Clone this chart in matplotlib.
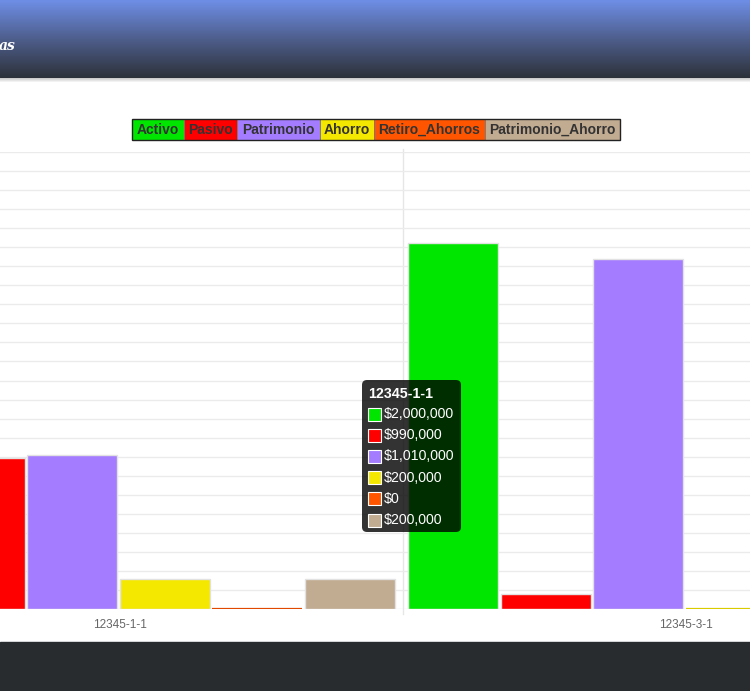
import numpy as np
import matplotlib
matplotlib.use("Agg")
import matplotlib.pyplot as plt
from matplotlib.patches import Rectangle, FancyBboxPatch

# data
groups = ["12345-1-1", "12345-3-1"]
series = ["Activo", "Pasivo", "Patrimonio", "Ahorro", "Retiro_Ahorros", "Patrimonio_Ahorro"]
colors = ["#00e600", "#ff0000", "#a47cff", "#f5e800", "#ff5500", "#c1ab91"]
activo = [2000000, 2400000]
pasivo = [990000, 100000]
patrimonio = [1010000, 2300000]
ahorro = [200000, 0]
retiro_ahorros = [0, 0]
patrimonio_ahorro = [200000, 0]
values = [activo, pasivo, patrimonio, ahorro, retiro_ahorros, patrimonio_ahorro]
tooltip_group = 0

W, H = 750, 691
plt.rcParams['font.family'] = ['Liberation Sans', 'DejaVu Sans']
fig = plt.figure(figsize=(W / 100, H / 100), dpi=100)

def frac(x0, y0, x1, y1):
    # pixel box (top-left origin) -> figure fraction rect
    return [x0 / W, 1 - y1 / H, (x1 - x0) / W, (y1 - y0) / H]

# page background: header, shadow, footer
bg = fig.add_axes([0, 0, 1, 1], zorder=0)
bg.axis("off")
top = np.array([110, 142, 230]) / 255
mid = np.array([78, 94, 140]) / 255
bot = np.array([45, 50, 58]) / 255
t = np.linspace(0, 1, 78)[:, None]
grad = np.where(t < 0.5, top + (mid - top) * (t / 0.5), mid + (bot - mid) * ((t - 0.5) / 0.5))
bg.imshow(grad[:, None, :].repeat(2, axis=1), extent=[0, W, 78, 0], aspect="auto")
sh = np.linspace(0.8, 1.0, 5)[:, None, None].repeat(2, axis=1).repeat(3, axis=2)
bg.imshow(sh, extent=[0, W, 83, 78], aspect="auto")
bg.add_patch(Rectangle((0, 642), W, H - 642, color="#282c2f"))
bg.text(-1, 46, "as", color="white", fontsize=10, fontweight="bold", fontstyle="italic",
        family="DejaVu Serif", va="center", ha="left")
bg.set_xlim(0, W)
bg.set_ylim(H, 0)

# chart
ax = fig.add_axes(frac(0, 152, W, 609), zorder=1)
ax.patch.set_alpha(0)
gpx = 566.0
ax.set_xlim(-120 / gpx, (W - 120) / gpx)
ax.set_ylim(0, 3000000)
ax.set_yticks(np.arange(0, 3000001, 125000))
ax.yaxis.grid(True, color="#ebebeb", lw=1)
ax.set_axisbelow(True)
ax.tick_params(axis="y", left=False, labelleft=False)
for s in ax.spines.values():
    s.set_visible(False)
for b in [-0.5, 0.5, 1.5]:
    ax.axvline(b, ymin=-0.011, ymax=1.007, color="#e6e6e6", lw=1, clip_on=False, zorder=0)

x = np.arange(len(groups))
bw = 90 / gpx
edge_zero = {"#f5e800": "#d9cb00", "#ff5500": "#e04a00"}
for i, (name, vals, c) in enumerate(zip(series, values, colors)):
    off = (-233 + 92.5 * i) / gpx
    ec = [edge_zero.get(c, c) if v == 0 else "#e2e2e2" for v in vals]
    lw = [1.6 if v == 0 else 1 for v in vals]
    ax.bar(x + off, vals, width=bw, color=c, edgecolor=ec, linewidth=lw, label=name, zorder=2)

ax.set_xticks(x)
ax.set_xticklabels(groups, fontsize=8.5, color="#666666")
ax.tick_params(axis="x", length=0, pad=7)

# overlay: legend and tooltip
ov = fig.add_axes([0, 0, 1, 1], zorder=3)
ov.set_xlim(0, W)
ov.set_ylim(H, 0)
ov.axis("off")
edges = [132, 184, 237, 320, 374, 485, 620]
for i, (name, c) in enumerate(zip(series, colors)):
    ov.add_patch(Rectangle((edges[i], 119), edges[i + 1] - edges[i], 21, facecolor=c,
                           edgecolor="#777777", lw=0.6))
    ov.text((edges[i] + edges[i + 1]) / 2, 129.5, name, ha="center", va="center",
            fontsize=10, fontweight="bold", color="#333333")
ov.add_patch(Rectangle((edges[0], 119), edges[-1] - edges[0], 21, fill=False,
                       edgecolor="#222222", lw=1))

ov.add_patch(FancyBboxPatch((365, 383), 93, 146, boxstyle="round,pad=3,rounding_size=5",
                            facecolor=(0, 0, 0, 0.8), edgecolor="none"))
ov.text(368, 394, groups[tooltip_group], color="white", fontsize=10.3, fontweight="bold",
        ha="left", va="center")
for i, (vals, c) in enumerate(zip(values, colors)):
    yy = 414 + 21.2 * i
    ov.add_patch(Rectangle((368, yy - 6.5), 13, 13, facecolor=c, edgecolor="white", lw=0.8))
    ov.text(384, yy, f"${vals[tooltip_group]:,.0f}", color="white", fontsize=10.2,
            ha="left", va="center")

fig.savefig("out.png", dpi=100)
